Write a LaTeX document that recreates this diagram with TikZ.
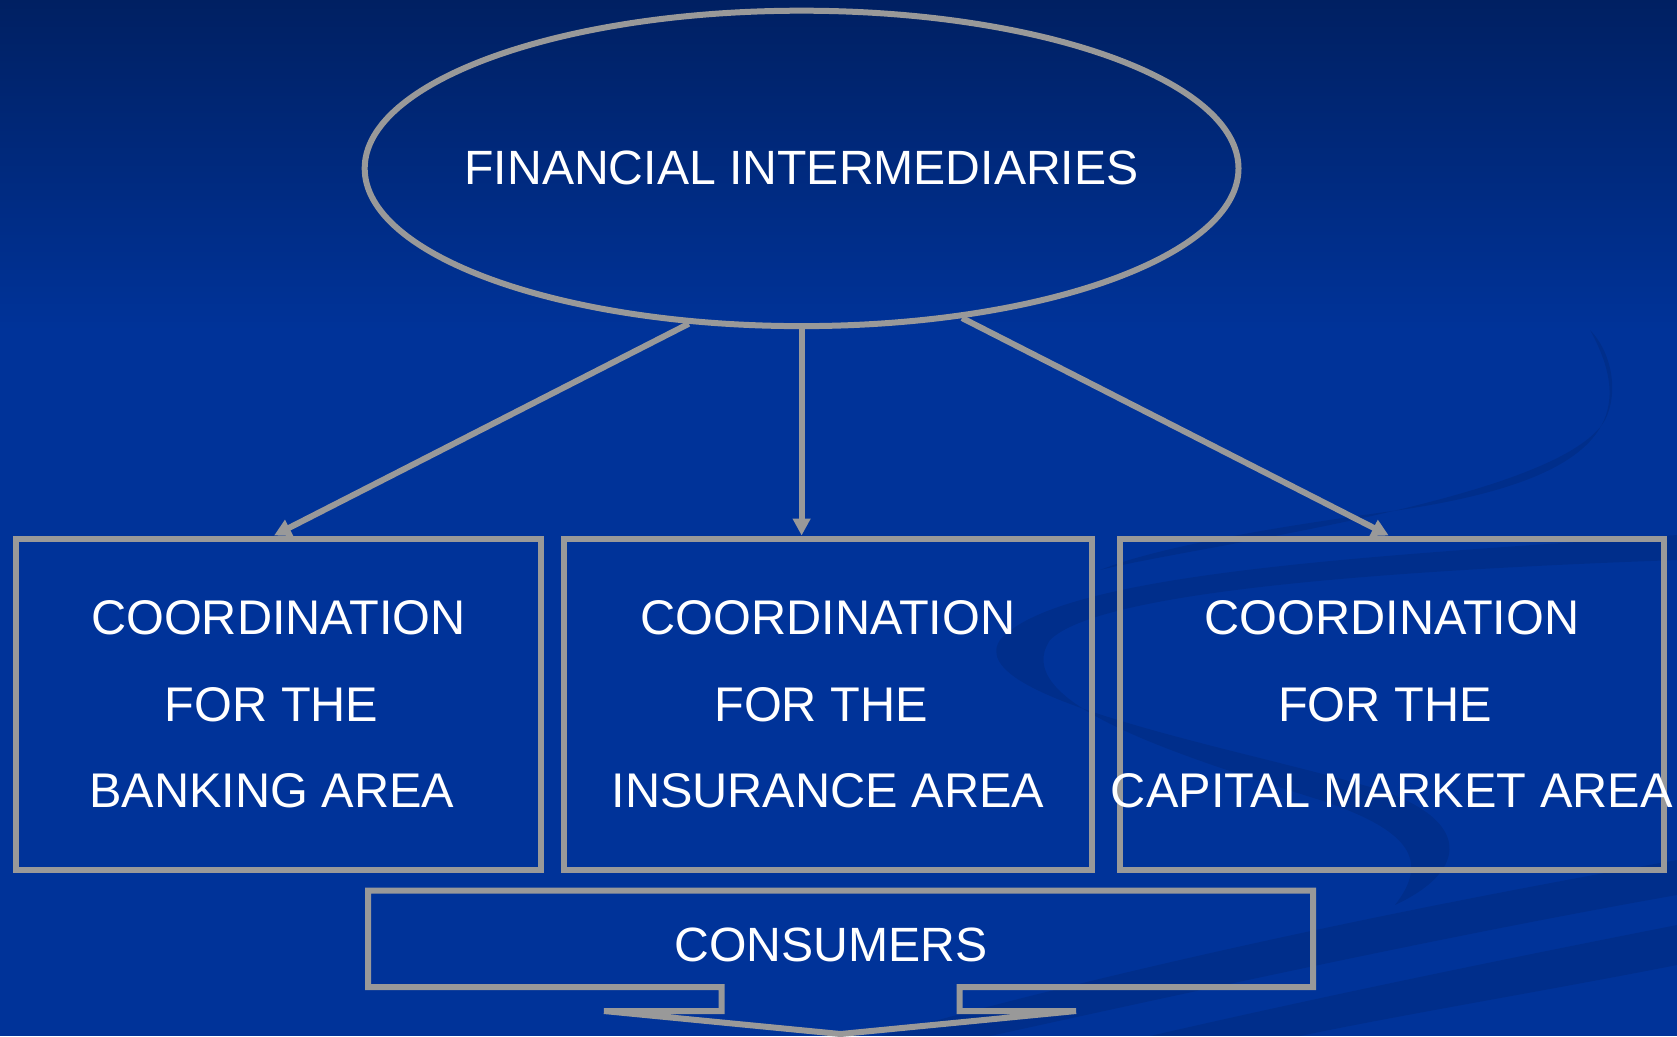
\documentclass[tikz,border=0pt]{standalone}
\usepackage{fontspec}
\setmainfont{Liberation Sans}
\usetikzlibrary{arrows.meta, positioning, shapes.geometric}

\definecolor{navytop}{RGB}{0,32,98}
\definecolor{slideblue}{RGB}{0,51,153}
\definecolor{framegray}{RGB}{153,153,153}

\newcommand{\tsp}{\hbox to .28em{}}

\tikzset{
  grayline/.style={draw=framegray, line width=0.12cm},
  areabox/.style={grayline, rectangle, minimum height=6.63cm, inner sep=0pt},
  areatext/.style={text=white, align=center, inner sep=0pt,
    font=\fontsize{27.7pt}{49.3pt}\selectfont},
  titletext/.style={text=white, inner sep=0pt, font=\fontsize{27.4pt}{33pt}\selectfont},
  link/.style={framegray, line width=0.12cm, -{Triangle[length=0.34cm, width=0.34cm]}},
  swoosh/.style={fill=black, fill opacity=0.09, draw=none}
}

\begin{document}
\begin{tikzpicture}[x=0.02cm, y=-0.02cm]
      \useasboundingbox (0,0) rectangle (1677,1036);

      % Slide background
      \shade[top color=navytop, bottom color=slideblue] (0,0) rectangle (1677,330);
      \fill[slideblue] (0,329) rectangle (1677,1036);

      % Faint swooshes on the right
      \fill[swoosh] (1677,535) .. controls (1400,555) and (1060,570) .. (1000,640)
        .. controls (960,700) and (1250,750) .. (1380,790)
        .. controls (1470,820) and (1470,870) .. (1395,905)
        .. controls (1430,860) and (1410,830) .. (1320,800)
        .. controls (1160,750) and (1010,700) .. (1050,640)
        .. controls (1100,590) and (1400,570) .. (1677,560) -- cycle;
      \fill[swoosh] (1590,330) .. controls (1640,420) and (1600,480) .. (1400,510)
        .. controls (1250,530) and (1150,550) .. (1100,570)
        .. controls (1200,545) and (1560,500) .. (1605,420)
        .. controls (1620,390) and (1610,350) .. (1590,330) -- cycle;
      \fill[swoosh] (880,1036) .. controls (1150,960) and (1450,900) .. (1677,860)
        -- (1677,895) .. controls (1450,935) and (1200,990) .. (990,1036) -- cycle;
      \fill[swoosh] (1150,1036) .. controls (1350,990) and (1550,950) .. (1677,925)
        -- (1677,965) .. controls (1550,990) and (1400,1015) .. (1300,1036) -- cycle;

      % Top ellipse
      \node[ellipse, grayline, minimum width=17.48cm, minimum height=6.31cm, inner sep=0pt] (fi) at (801.6,168.4) {};
      \node[titletext] (fitext) at (fi.center) {FINANCIAL INTERMEDIARIES};

      % The three coordination boxes
      \node[areabox, minimum width=10.5cm] (banking) at (278.5,704.25) {};
      \node[areabox, minimum width=10.56cm, right=0.34cm of banking] (insurance) {};
      \node[areabox, minimum width=10.88cm, right=0.44cm of insurance] (capital) {};

      \node[areatext] (bankingtext) at (banking.center) {COORDINATION\\FOR THE\tsp\\BANKING AREA\tsp};
      \node[areatext] (insurancetext) at (insurance.center) {COORDINATION\\FOR THE\tsp\\INSURANCE AREA};
      \node[areatext] (capitaltext) at (capital.center) {COORDINATION\\FOR THE\tsp\\CAPITAL MARKET AREA};

      % Arrows down from the ellipse
      \draw[link] (fi.234.4) -- ([xshift=-0.09cm]banking.north);
      \draw[link] (fi.south) -- (fi.south |- insurance.north);
      \draw[link] (fi.317.4) -- ([xshift=-0.06cm]capital.north);

      % Down-arrow callout at the bottom
      \draw[grayline, line join=miter] (721.6,987) -- (368,987) -- (368,890.5) -- (1313,890.5)
        -- (1313,987) -- (959.5,987) -- (959.5,1011) -- (1076,1011) -- (840.5,1034)
        -- (604,1011) -- (721.6,1011) -- cycle;
      \node[titletext] (consumers) at (831,945) {CONSUMERS};

\end{tikzpicture}
\end{document}
